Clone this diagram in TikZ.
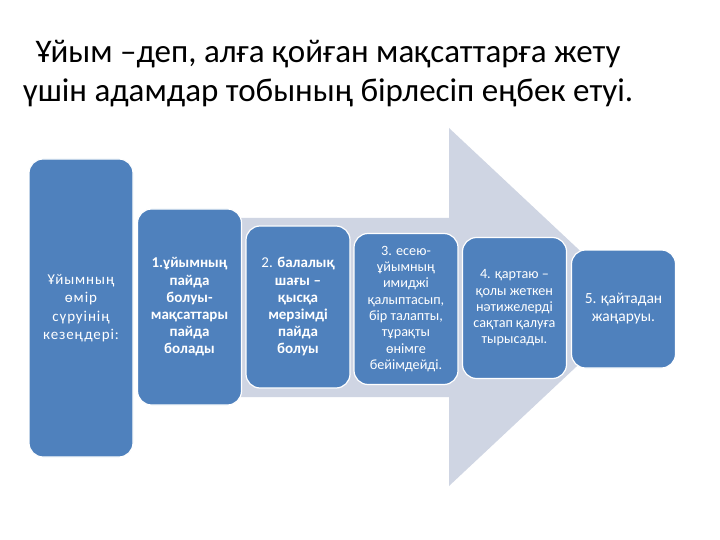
\documentclass[tikz,border=0pt]{standalone}
\usepackage{fontspec}
\setmainfont{Carlito}
\definecolor{boxblue}{HTML}{4F81BD}
\definecolor{arrowgrey}{HTML}{CFD5E3}
\tikzset{
  stage/.style={draw=white, line width=1.2pt, fill=boxblue, rounded corners=14pt,
    text=white, align=center, inner sep=2pt, minimum width=104pt},
  boldtext/.style={font=\fontsize{15}{17.2}\selectfont\bfseries},
  plaintext/.style={font=\fontsize{14.2}{16.3}\selectfont},
}
\begin{document}
\begin{tikzpicture}[x=1pt,y=-1pt]
\useasboundingbox (0,0) rectangle (720,540);
\fill[white] (0,0) rectangle (720,540);
% title
\node[align=center, font=\fontsize{33}{39}\selectfont, anchor=center] (title) at (328,74)
  {Ұйым –деп, алға қойған мақсаттарға жету\\үшін адамдар тобының бірлесіп еңбек етуі.};
% big arrow
\fill[arrowgrey] (140,218) -- (449,218) -- (449,128) -- (640,307) -- (449,486) -- (449,397) -- (140,397) -- cycle;
% stages
\node[stage, minimum height=298pt, font=\fontsize{15}{18.5}\selectfont\addfontfeature{LetterSpace=6}] (b0) at (81,308)
  {Ұйымның\\өмір\\сүруінің\\кезеңдері:};
\node[stage, boldtext, minimum height=196pt] (b1) at (189.5,307)
  {1.ұйымның\\пайда\\болуы-\\мақсаттары\\пайда\\болады};
\node[stage, boldtext, minimum height=162pt] (b2) at (298,307)
  {{\mdseries 2.} балалық\\шағы –\\қысқа\\мерзімді\\пайда\\болуы};
\node[stage, plaintext, minimum height=151pt] (b3) at (406,309)
  {3. есею-\\ұйымның\\имиджі\\қалыптасып,\\бір талапты,\\тұрақты\\өнімге\\бейімдейді.};
\node[stage, plaintext, minimum height=141pt] (b4) at (514.5,308)
  {4. қартаю –\\қолы жеткен\\нәтижелерді\\сақтап қалуға\\тырысады.};
\node[stage, font=\fontsize{15.5}{18}\selectfont, minimum height=118pt] (b5) at (623.5,309)
  {5. қайтадан\\жаңаруы.};
\end{tikzpicture}
\end{document}
